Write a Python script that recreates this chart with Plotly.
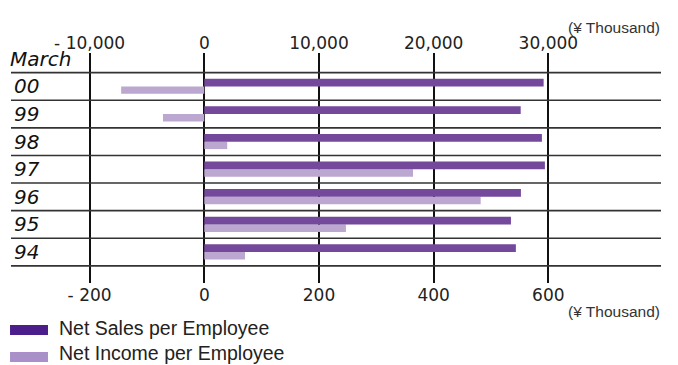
import plotly.graph_objects as go

years = ["00", "99", "98", "97", "96", "95", "94"]
net_sales = [29590, 27590, 29440, 29700, 27610, 26740, 27170]      # ¥ thousand (top axis)
net_income = [-145, -72, 40, 364, 482, 247, 71]                     # ¥ thousand (bottom axis)

sales_ticks = [-10000, 0, 10000, 20000, 30000]
sales_ticktext = ["- 10,000", "0", "10,000", "20,000", "30,000"]
income_ticks = [-200, 0, 200, 400, 600]
income_ticktext = ["- 200", "0", "200", "400", "600"]

SALES_COLOR = "#74489a"
INCOME_COLOR = "#bba7cf"
LEG_SALES = "#4b1e8c"
LEG_INCOME = "#a990c8"

fig = go.Figure()
fig.add_trace(go.Bar(
    y=years, x=net_sales, orientation="h", xaxis="x2", yaxis="y",
    marker=dict(color=SALES_COLOR, line=dict(width=0)),
    width=0.28, offset=-0.28, name="Net Sales per Employee", showlegend=False,
))
fig.add_trace(go.Bar(
    y=years, x=net_income, orientation="h", xaxis="x", yaxis="y",
    marker=dict(color=INCOME_COLOR, line=dict(width=0)),
    width=0.27, offset=0.0, name="Net Income per Employee", showlegend=False,
))

num_font = dict(family="DejaVu Sans", size=17, color="#222")

shapes = []
for k in range(len(years) + 1):
    shapes.append(dict(type="line", xref="paper", yref="y", x0=0, x1=1,
                       y0=k - 0.5, y1=k - 0.5, line=dict(color="#333", width=1.6)))
# custom legend swatches
shapes.append(dict(type="rect", xref="paper", yref="paper", x0=-0.0015, x1=0.0569,
                   y0=-0.2261, y1=-0.1826, fillcolor=LEG_SALES, line=dict(width=0)))
shapes.append(dict(type="rect", xref="paper", yref="paper", x0=-0.0015, x1=0.0569,
                   y0=-0.3435, y1=-0.30, fillcolor=LEG_INCOME, line=dict(width=0)))

annotations = [
    dict(text="March", xref="paper", yref="y", x=0, y=-1, xanchor="left", yanchor="middle",
         xshift=-3, showarrow=False,
         font=dict(family="DejaVu Sans", size=20, color="#111", style="italic")),
    dict(text="(¥ Thousand)", xref="paper", yref="paper", x=1.0015, y=1.109,
         xanchor="right", yanchor="middle", showarrow=False,
         font=dict(family="Liberation Sans", size=15.5, color="#333")),
    dict(text="(¥ Thousand)", xref="paper", yref="paper", x=1.0015, y=-0.122,
         xanchor="right", yanchor="middle", showarrow=False,
         font=dict(family="Liberation Sans", size=15.5, color="#333")),
    dict(text="Net Sales per Employee", xref="paper", yref="paper", x=0.0708, y=-0.194,
         xanchor="left", yanchor="middle", showarrow=False,
         font=dict(family="Liberation Sans", size=19.5, color="#222")),
    dict(text="Net Income per Employee", xref="paper", yref="paper", x=0.0708, y=-0.306,
         xanchor="left", yanchor="middle", showarrow=False,
         font=dict(family="Liberation Sans", size=19.5, color="#222")),
]

# The page body has an 8px default margin, so the figure is sized 8px smaller
# and its margins reduced so the plot area lands at x 11..661, y 53..283.
fig.update_layout(
    width=670, height=357,
    margin=dict(l=3, r=17, t=45, b=82, pad=0, autoexpand=False),
    plot_bgcolor="white", paper_bgcolor="white",
    barmode="overlay",
    xaxis=dict(range=[-337.1, 796.5], tickvals=income_ticks, ticktext=income_ticktext,
               showgrid=False, zeroline=False, showline=False, ticks="",
               tickfont=num_font, side="bottom", automargin=False),
    xaxis2=dict(range=[-16855, 39825], tickvals=sales_ticks, ticktext=sales_ticktext,
                overlaying="x", side="top", showgrid=True, gridcolor="#111", gridwidth=1.6,
                zeroline=False, showline=False, ticks="", tickfont=num_font, automargin=False),
    yaxis=dict(type="category", categoryorder="array", categoryarray=years,
               range=[7.12, -1.21], showgrid=False, zeroline=False, showline=False,
               ticks="", ticklabelposition="inside", automargin=False,
               tickfont=dict(family="DejaVu Sans", size=20, color="#111", style="italic")),
    shapes=shapes, annotations=annotations,
)

fig.write_html("out.html")
